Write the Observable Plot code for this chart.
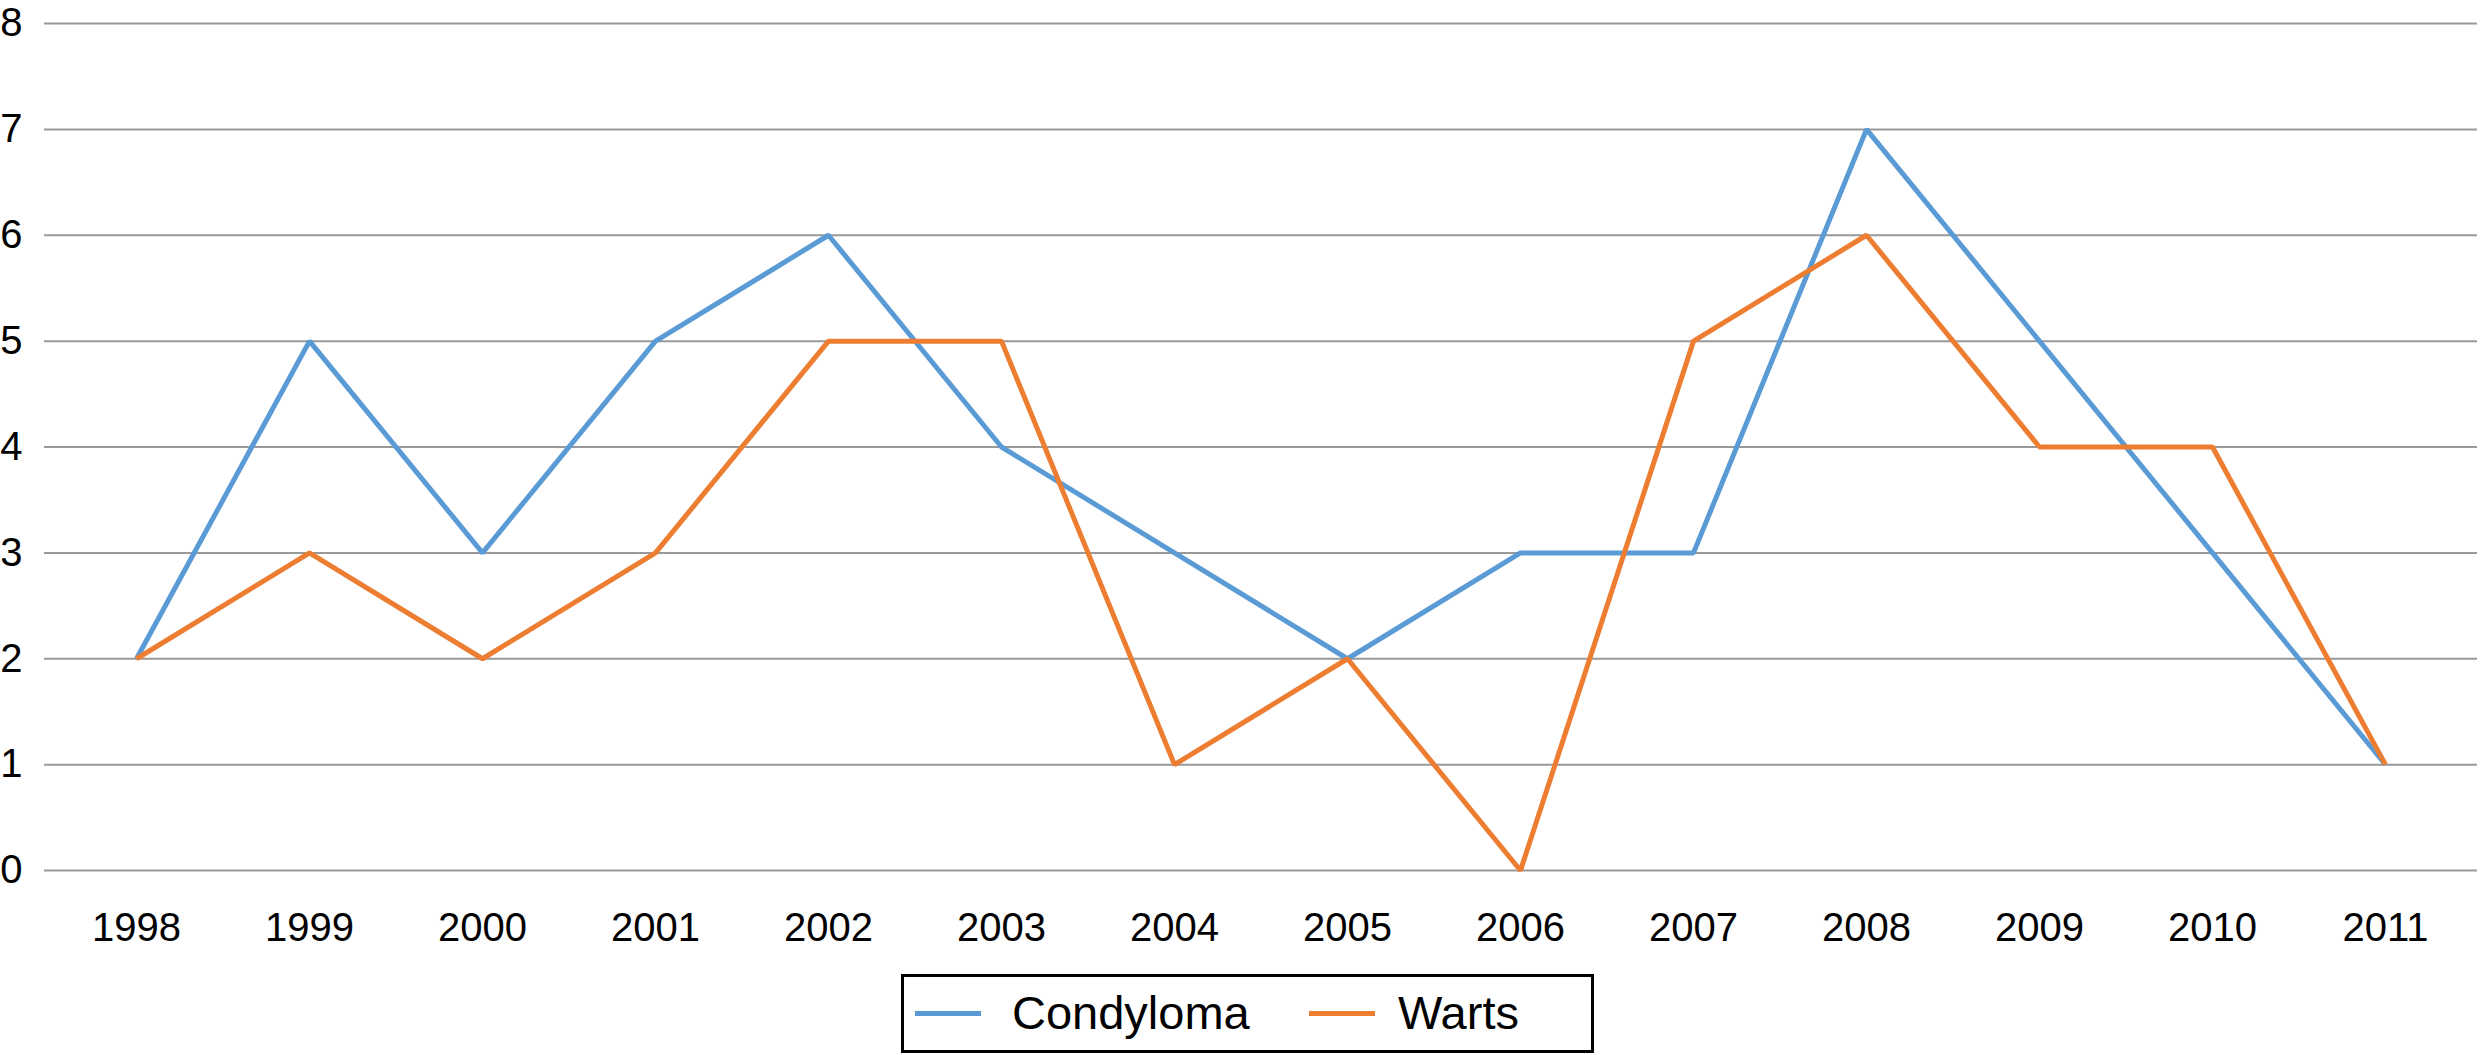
<!DOCTYPE html>
<html>
<head>
<meta charset="utf-8">
<script src="https://cdn.jsdelivr.net/npm/d3@7"></script>
<script src="https://cdn.jsdelivr.net/npm/@observablehq/plot@0.6"></script>
<style>
  html, body { margin: 0; padding: 0; background: #fff; }
  #wrap { position: relative; width: 2483px; height: 1055px; font-family: "Liberation Sans", Arial, Helvetica, sans-serif; }
  #chart svg { display: block; }
  #legend { position: absolute; left: 901px; top: 974px; width: 687px; height: 73px; border: 3px solid #000; box-sizing: content-box; }
  .sw { position: absolute; top: 34px; height: 5px; width: 66px; }
  .lab { position: absolute; top: 8px; font-size: 47px; line-height: 56px; color: #000; white-space: nowrap; }
</style>
</head>
<body>
<div id="wrap">
  <div id="chart"></div>
  <div id="legend"></div>
</div>
<script>
const years = ["1998","1999","2000","2001","2002","2003","2004","2005","2006","2007","2008","2009","2010","2011"];
const condyloma = [2, 5, 3, 5, 6, 4, 3, 2, 3, 3, 7, 5, 3, 1];
const warts = [2, 3, 2, 3, 5, 5, 1, 2, 0, 5, 6, 4, 4, 1];
const yTicks = [0, 1, 2, 3, 4, 5, 6, 7, 8];
const seriesNames = ["Condyloma", "Warts"];
const seriesColors = ["#5B9BD5", "#ED7D31"];

const rows = [];
seriesNames.forEach((name, s) => {
  const vals = s === 0 ? condyloma : warts;
  years.forEach((y, i) => rows.push({ year: y, value: vals[i], series: name }));
});

const chart = Plot.plot({
  width: 2483,
  height: 960,
  marginLeft: 44,
  marginRight: 6,
  marginTop: 23,
  marginBottom: 90,
  style: { fontFamily: "'Liberation Sans', Arial, Helvetica, sans-serif", fontSize: "40px", color: "#000", background: "#fff" },
  x: { type: "point", domain: years, padding: 0.5, label: null, tickSize: 0, tickPadding: 42 },
  y: { domain: [0, 8], ticks: yTicks, label: null, tickSize: 0, tickPadding: 22 },
  color: { domain: seriesNames, range: seriesColors },
  marks: [
    Plot.ruleY(yTicks, { stroke: "#999", strokeWidth: 2 }),
    Plot.line(rows, { x: "year", y: "value", z: "series", stroke: "series", strokeWidth: 5, strokeLinejoin: "miter", strokeLinecap: "butt" })
  ]
});
document.getElementById("chart").appendChild(chart);

const legend = document.getElementById("legend");
const swLeft = [11, 405];
const labLeft = [108, 494];
seriesNames.forEach((name, i) => {
  const sw = document.createElement("div");
  sw.className = "sw";
  sw.style.left = swLeft[i] + "px";
  sw.style.background = seriesColors[i];
  legend.appendChild(sw);
  const lab = document.createElement("div");
  lab.className = "lab";
  lab.style.left = labLeft[i] + "px";
  lab.textContent = name;
  legend.appendChild(lab);
});
</script>
</body>
</html>
